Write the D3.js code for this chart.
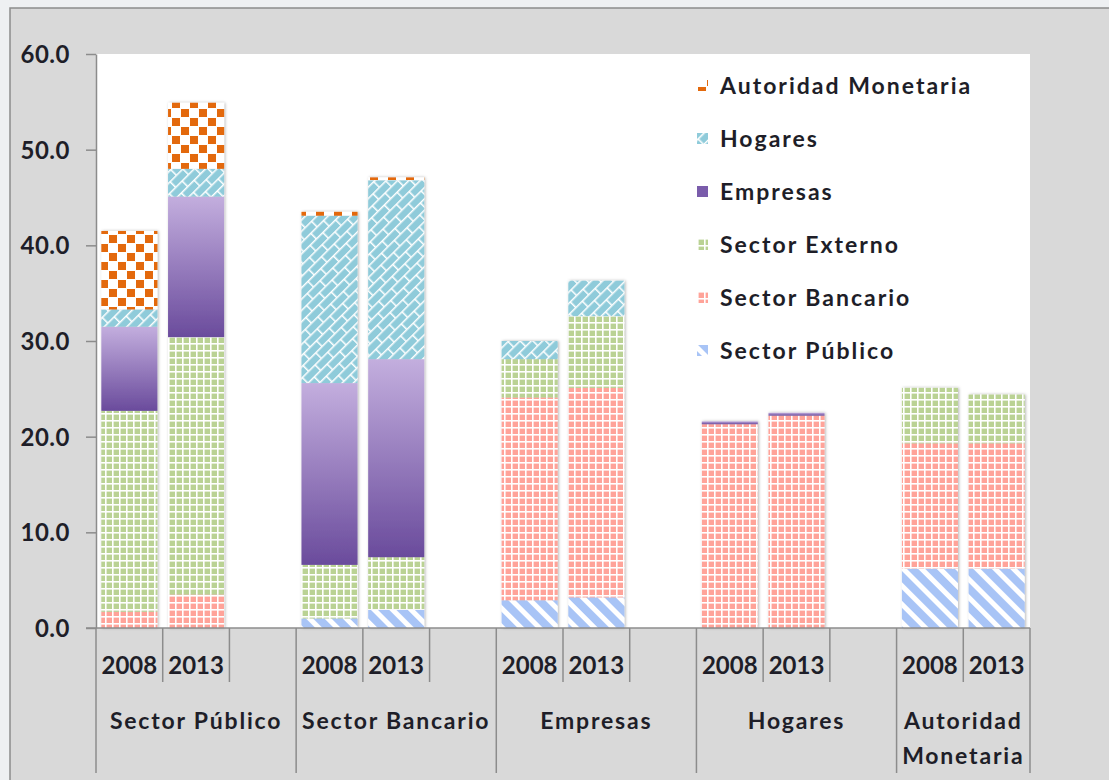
<!DOCTYPE html>
<html>
<head>
<meta charset="utf-8">
<script src="https://cdn.jsdelivr.net/npm/d3@7"></script>
<style>
  html, body { margin: 0; padding: 0; background: #eef0f2; }
  svg { display: block; }
  text { font-family: Lato, "Open Sans", sans-serif; font-weight: bold; fill: #1e1e28; }
</style>
</head>
<body>
<script>
// sectors (x groups) and years
var groups = ['Sector Público', 'Sector Bancario', 'Empresas', 'Hogares', 'Autoridad Monetaria'];
var years = ['2008', '2013'];

// stack order, bottom to top
var seriesNames = ['Sector Público', 'Sector Bancario', 'Sector Externo', 'Empresas', 'Hogares', 'Autoridad Monetaria'];

// one value per bar: SP08, SP13, SB08, SB13, EMP08, EMP13, HOG08, HOG13, AM08, AM13
var sectorPublico      = [0.0, 0.0, 1.0, 1.9, 2.9, 3.2, 0.0, 0.0, 6.2, 6.2];
var sectorBancario     = [1.7, 3.5, 0.0, 0.0, 21.2, 21.9, 21.3, 22.2, 13.1, 13.1];
var sectorExterno      = [21.0, 26.9, 5.6, 5.5, 4.0, 7.5, 0.0, 0.0, 5.8, 5.1];
var empresas           = [8.8, 14.7, 19.0, 20.7, 0.0, 0.0, 0.3, 0.3, 0.0, 0.0];
var hogares            = [1.8, 2.9, 17.5, 18.7, 1.9, 3.7, 0.0, 0.0, 0.0, 0.0];
var autoridadMonetaria = [8.2, 6.9, 0.4, 0.3, 0.0, 0.0, 0.0, 0.0, 0.0, 0.0];

var yTicks = [0, 10, 20, 30, 40, 50, 60];

var W = 1109, H = 780;
var plotLeft = 96, plotRight = 1030, plotTop = 54, plotBottom = 628;

var svg = d3.select('body').append('svg')
    .attr('width', W)
    .attr('height', H);

var defs = svg.append('defs');

// fills
function gridPattern(id, color) {
  var p = defs.append('pattern')
      .attr('id', id)
      .attr('patternUnits', 'userSpaceOnUse')
      .attr('width', 7).attr('height', 7);
  p.append('rect').attr('width', 7).attr('height', 7).attr('fill', color);
  p.append('rect').attr('width', 7).attr('height', 1.6).attr('fill', '#fff');
  p.append('rect').attr('width', 1.6).attr('height', 7).attr('fill', '#fff');
}
gridPattern('pat-externo', '#bad294');
gridPattern('pat-bancario', '#ffa399');

var stripes = defs.append('pattern')
    .attr('id', 'pat-publico')
    .attr('patternUnits', 'userSpaceOnUse')
    .attr('width', 13).attr('height', 13)
    .attr('patternTransform', 'rotate(-45)');
stripes.append('rect').attr('width', 13).attr('height', 13).attr('fill', '#a8c4f6');
stripes.append('rect').attr('width', 5).attr('height', 13).attr('fill', '#fff');

var checks = defs.append('pattern')
    .attr('id', 'pat-autoridad')
    .attr('patternUnits', 'userSpaceOnUse')
    .attr('width', 18).attr('height', 18);
checks.append('rect').attr('width', 18).attr('height', 18).attr('fill', '#fff');
checks.append('rect').attr('x', 1).attr('y', 1).attr('width', 8).attr('height', 8).attr('fill', '#e3690c');
checks.append('rect').attr('x', 10).attr('y', 10).attr('width', 8).attr('height', 8).attr('fill', '#e3690c');

var brick = defs.append('pattern')
    .attr('id', 'pat-hogares')
    .attr('patternUnits', 'userSpaceOnUse')
    .attr('width', 36).attr('height', 16)
    .attr('patternTransform', 'rotate(-45)');
brick.append('rect').attr('width', 36).attr('height', 16).attr('fill', '#8fcbda');
brick.append('rect').attr('width', 36).attr('height', 1.5).attr('fill', '#fff');
brick.append('rect').attr('y', 8).attr('width', 36).attr('height', 1.5).attr('fill', '#fff');
brick.append('rect').attr('x', 0).attr('width', 1.5).attr('height', 8).attr('fill', '#fff');
brick.append('rect').attr('x', 18).attr('width', 1.5).attr('height', 8).attr('fill', '#fff');
brick.append('rect').attr('x', 9).attr('y', 8).attr('width', 1.5).attr('height', 8).attr('fill', '#fff');
brick.append('rect').attr('x', 27).attr('y', 8).attr('width', 1.5).attr('height', 8).attr('fill', '#fff');

var grad = defs.append('linearGradient')
    .attr('id', 'grad-empresas')
    .attr('x1', 0).attr('y1', 0).attr('x2', 0).attr('y2', 1);
grad.append('stop').attr('offset', '0%').attr('stop-color', '#c3aede');
grad.append('stop').attr('offset', '100%').attr('stop-color', '#6a4b9c');

var shadow = defs.append('filter').attr('id', 'shadow')
    .attr('x', '-20%').attr('y', '-5%').attr('width', '140%').attr('height', '110%');
shadow.append('feDropShadow')
    .attr('dx', 1).attr('dy', 0).attr('stdDeviation', 1.8)
    .attr('flood-color', '#000').attr('flood-opacity', 0.3);

var fills = {
  'Sector Público': 'url(#pat-publico)',
  'Sector Bancario': 'url(#pat-bancario)',
  'Sector Externo': 'url(#pat-externo)',
  'Empresas': 'url(#grad-empresas)',
  'Hogares': 'url(#pat-hogares)',
  'Autoridad Monetaria': 'url(#pat-autoridad)'
};
// legend swatch for the gradient series is flat
var legendFills = { 'Empresas': '#7a5cab' };

// background frame
svg.append('rect')
    .attr('x', 10).attr('y', 8)
    .attr('width', W).attr('height', H)
    .attr('fill', '#d9d9d9')
    .attr('stroke', '#8c8c8c')
    .attr('stroke-width', 1.5);

svg.append('rect')
    .attr('x', plotLeft).attr('y', plotTop)
    .attr('width', plotRight - plotLeft).attr('height', plotBottom - plotTop)
    .attr('fill', '#fff');

// slots: 2008, 2013, gap per group (no gap after the last one)
var slots = [];
groups.forEach(function(g, gi) {
  years.forEach(function(yr) { slots.push(g + '|' + yr); });
  if (gi < groups.length - 1) slots.push(g + '|');
});

var x = d3.scaleBand()
    .domain(slots)
    .range([plotLeft, plotRight])
    .paddingInner(0.16)
    .paddingOuter(0.08);

var y = d3.scaleLinear()
    .domain([0, 60])
    .range([plotBottom, plotTop]);

// bars
var table = [];
groups.forEach(function(g, gi) {
  years.forEach(function(yr, yi) {
    var i = gi * 2 + yi;
    table.push({
      slot: g + '|' + yr,
      'Sector Público': sectorPublico[i],
      'Sector Bancario': sectorBancario[i],
      'Sector Externo': sectorExterno[i],
      'Empresas': empresas[i],
      'Hogares': hogares[i],
      'Autoridad Monetaria': autoridadMonetaria[i]
    });
  });
});

var stacked = d3.stack().keys(seriesNames)(table);

var bars = svg.append('g').selectAll('g.bar')
    .data(table)
    .enter()
    .append('g')
    .attr('class', 'bar')
    .attr('filter', 'url(#shadow)');

bars.selectAll('rect')
    .data(function(d, i) {
      return stacked.map(function(s) { return { key: s.key, lo: s[i][0], hi: s[i][1], slot: d.slot }; })
          .filter(function(s) { return s.hi > s.lo; });
    })
    .enter()
    .append('rect')
    .attr('x', function(d) { return x(d.slot); })
    .attr('y', function(d) { return y(d.hi); })
    .attr('width', x.bandwidth())
    .attr('height', function(d) { return y(d.lo) - y(d.hi); })
    .attr('fill', function(d) { return fills[d.key]; });

// y axis
var yAxis = svg.append('g')
    .attr('transform', 'translate(' + plotLeft + ',0)')
    .call(d3.axisLeft(y).tickValues(yTicks).tickSize(10).tickSizeOuter(0).tickFormat(d3.format('.1f')));
yAxis.select('.domain').attr('stroke', '#8c8c8c').attr('stroke-width', 1.5);
yAxis.selectAll('.tick line').attr('stroke', '#8c8c8c').attr('stroke-width', 1.5);
yAxis.selectAll('.tick text')
    .attr('x', -26)
    .attr('dy', '0.36em')
    .attr('fill', '#1e1e28')
    .attr('font-family', 'Lato')
    .attr('font-weight', 'bold')
    .style('font-size', '24px')
    .style('letter-spacing', '0.5px');

// x axis: baseline, slot ticks, group dividers
var xAxis = svg.append('g');
xAxis.append('line')
    .attr('x1', plotLeft - 10).attr('x2', plotRight)
    .attr('y1', plotBottom).attr('y2', plotBottom)
    .attr('stroke', '#8c8c8c').attr('stroke-width', 1.5);

var step = x.step();
var edges = d3.range(slots.length + 1).map(function(k) { return plotLeft + k * step; });
var groupEdges = [0];
groups.forEach(function(g, gi) {
  groupEdges.push(groupEdges[gi] + (gi < groups.length - 1 ? 3 : 2));
});

xAxis.selectAll('line.edge')
    .data(edges)
    .enter()
    .append('line')
    .attr('class', 'edge')
    .attr('x1', function(d) { return d; })
    .attr('x2', function(d) { return d; })
    .attr('y1', plotBottom)
    .attr('y2', function(d, k) { return groupEdges.indexOf(k) >= 0 ? 773 : 682; })
    .attr('stroke', '#8c8c8c').attr('stroke-width', 1.5);

xAxis.selectAll('text.year')
    .data(table)
    .enter()
    .append('text')
    .attr('class', 'year')
    .attr('x', function(d) { return x(d.slot) + x.bandwidth() / 2; })
    .attr('y', 674)
    .attr('text-anchor', 'middle')
    .style('font-size', '24px')
    .text(function(d) { return d.slot.split('|')[1]; });

var groupLines = {
  'Autoridad Monetaria': ['Autoridad', 'Monetaria']
};
var glabels = xAxis.selectAll('text.group')
    .data(groups)
    .enter()
    .append('text')
    .attr('class', 'group')
    .attr('text-anchor', 'middle')
    .style('font-size', '23px')
    .style('letter-spacing', '1.8px')
    .attr('x', function(d, gi) { return (edges[groupEdges[gi]] + edges[groupEdges[gi + 1]]) / 2; });
glabels.each(function(d) {
  var lines = groupLines[d] || [d];
  d3.select(this).selectAll('tspan')
      .data(lines)
      .enter()
      .append('tspan')
      .attr('x', d3.select(this).attr('x'))
      .attr('y', function(l, li) { return 729 + li * 35; })
      .text(function(l) { return l; });
});

// legend
var legendOrder = seriesNames.slice().reverse();
var legend = svg.append('g')
    .attr('transform', 'translate(697,86)');
var item = legend.selectAll('g')
    .data(legendOrder)
    .enter()
    .append('g')
    .attr('transform', function(d, i) { return 'translate(0,' + (i * 53) + ')'; });
item.append('rect')
    .attr('x', 0).attr('y', -6)
    .attr('width', 11).attr('height', 11)
    .attr('fill', function(d) { return legendFills[d] || fills[d]; });
item.append('text')
    .attr('x', 23)
    .attr('y', 0)
    .attr('dy', '0.36em')
    .style('font-size', '23px')
    .style('letter-spacing', '2px')
    .text(function(d) { return d; });
</script>
</body>
</html>
